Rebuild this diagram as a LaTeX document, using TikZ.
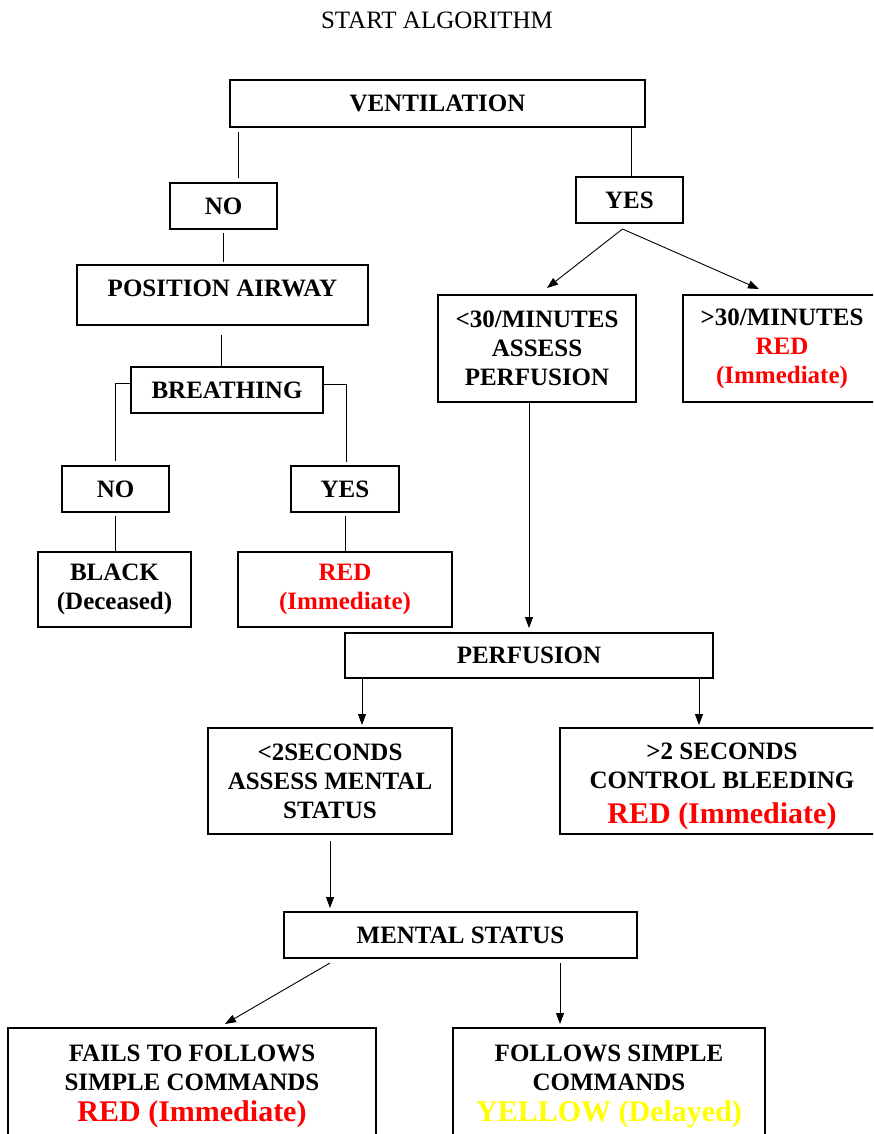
\documentclass[tikz,border=0pt]{standalone}
\usepackage{fontspec}
\setmainfont{Liberation Serif}
\usepackage{xcolor}
\usetikzlibrary{arrows.meta}

\definecolor{alertred}{RGB}{255,0,0}
\definecolor{delayyellow}{RGB}{255,255,0}

\newcommand{\bigline}[2]{{\fontsize{30}{34}\selectfont\color{#1}#2}}

\tikzset{
	box/.style = {draw, line width = 1.3pt, inner sep = 0pt, outer sep = 0pt, align = center,
		anchor = north west, font = \fontsize{25}{29}\selectfont\bfseries},
	link/.style = {line width = 0.9pt},
	arr/.style = {link, -{Triangle[length = 11pt, width = 8pt]}}
}

\begin{document}
\begin{tikzpicture}[x = 1pt, y = -1pt]
			\useasboundingbox (0, 0) rectangle (873, 1134);
			\clip (0, 0) rectangle (873, 1134);
			% title
			\node (title) at (437, 20) {\fontsize{25}{29}\selectfont START ALGORITHM};
			% boxes
			\node [box, minimum width = 415pt, minimum height = 47pt] (vent) at (230, 80) {VENTILATION};
			\node [box, minimum width = 107pt, minimum height = 46pt] (no1) at (170, 183) {NO};
			\node [box, minimum width = 291pt, text height = 31pt, text depth = 29pt] (pos) at (77, 265) {POSITION AIRWAY};
			\node [box, minimum width = 192pt, minimum height = 46pt] (breath) at (131, 367) {BREATHING};
			\node [box, minimum width = 107pt, minimum height = 46pt] (no2) at (62, 466) {NO};
			\node [box, minimum width = 108pt, minimum height = 46pt] (yes2) at (291, 466) {YES};
			\node [box, minimum width = 153pt, minimum height = 75pt] (black) at (38, 552) {BLACK\\(Deceased)};
			\node [box, text = alertred, minimum width = 214pt, minimum height = 75pt] (red1) at (238, 552) {RED\\(Immediate)};
			\node [box, minimum width = 107pt, minimum height = 46pt] (yes1) at (576, 177) {YES};
			\node [box, minimum width = 198pt, minimum height = 107pt] (less30) at (438, 295) {<30/MINUTES\\ASSESS\\PERFUSION};
			\node [box, minimum width = 198pt, minimum height = 107pt] (more30) at (683, 295)
				{>30/MINUTES\\\textcolor{alertred}{RED}\\\textcolor{alertred}{(Immediate)}};
			\node [box, minimum width = 368pt, minimum height = 45pt] (perf) at (345, 633) {PERFUSION};
			\node [box, minimum width = 244pt, minimum height = 106pt] (less2) at (208, 728) {<2SECONDS\\ASSESS MENTAL\\STATUS};
			\node [box, minimum width = 324pt, text height = 95pt, text depth = 11pt] (more2) at (560, 728)
				{>2 SECONDS\\CONTROL BLEEDING\\[6pt]\bigline{alertred}{RED (Immediate)}};
			\node [box, minimum width = 353pt, minimum height = 46pt] (mental) at (284, 912) {MENTAL STATUS};
			\node [box, minimum width = 368pt, text height = 93pt, text depth = 20pt] (fails) at (8, 1028)
				{FAILS TO FOLLOWS\\SIMPLE COMMANDS\\[2pt]\bigline{alertred}{RED (Immediate)}};
			\node [box, minimum width = 312pt, text height = 93pt, text depth = 20pt] (follows) at (453, 1028)
				{FOLLOWS SIMPLE\\COMMANDS\\[2pt]\bigline{delayyellow}{YELLOW (Delayed)}};
			% plain links
			\draw [link] ([xshift = 8pt, yshift = -5pt]vent.south west) -- ([xshift = 68pt, yshift = 5pt]no1.north west);
			\draw [link] ([xshift = -14pt]vent.south east) -- ([xshift = 55pt]yes1.north west);
			\draw [link] ([yshift = -4pt]no1.south) -- ([yshift = 3pt]no1.south |- pos.north);
			\draw [link] ([xshift = -1pt, yshift = -10pt]pos.south) -- ([xshift = -1pt]pos.south |- breath.north);
			\draw [link] ([yshift = -16pt]breath.north west) -| ([xshift = 53pt, yshift = 5pt]no2.north west);
			\draw [link] ([yshift = -17pt]breath.north east) -| ([xshift = 55pt, yshift = 4pt]yes2.north west);
			\draw [link] ([yshift = -4pt]no2.south) -- (no2.south |- black.north);
			\draw [link] ([yshift = -4pt]yes2.south) -- (yes2.south |- red1.north);
			% arrows
			\draw [arr] ([xshift = -7pt, yshift = -6pt]yes1.south) -- ([xshift = 109pt, yshift = 7pt]less30.north west);
			\draw [arr] ([xshift = -7pt, yshift = -6pt]yes1.south) -- ([xshift = 76pt, yshift = 6pt]more30.north west);
			\draw [arr] (less30.south -| perf.north) -- ([yshift = 5pt]perf.north);
			\draw [arr] ([xshift = 17pt]perf.south west) -- ([xshift = 154pt, yshift = 3pt]less2.north west);
			\draw [arr] ([xshift = -14pt]perf.south east) -- ([xshift = 139pt, yshift = 3pt]more2.north west);
			\draw [arr] ([yshift = -7pt]less2.south) -- ([xshift = 46pt, yshift = 4pt]mental.north west);
			\draw [arr] ([xshift = 46pt, yshift = -5pt]mental.south west) -- ([xshift = 217pt, yshift = 4pt]fails.north west);
			\draw [arr] ([xshift = 276pt, yshift = -5pt]mental.south west) -- ([xshift = 107pt, yshift = 4pt]follows.north west);
\end{tikzpicture}
\end{document}
